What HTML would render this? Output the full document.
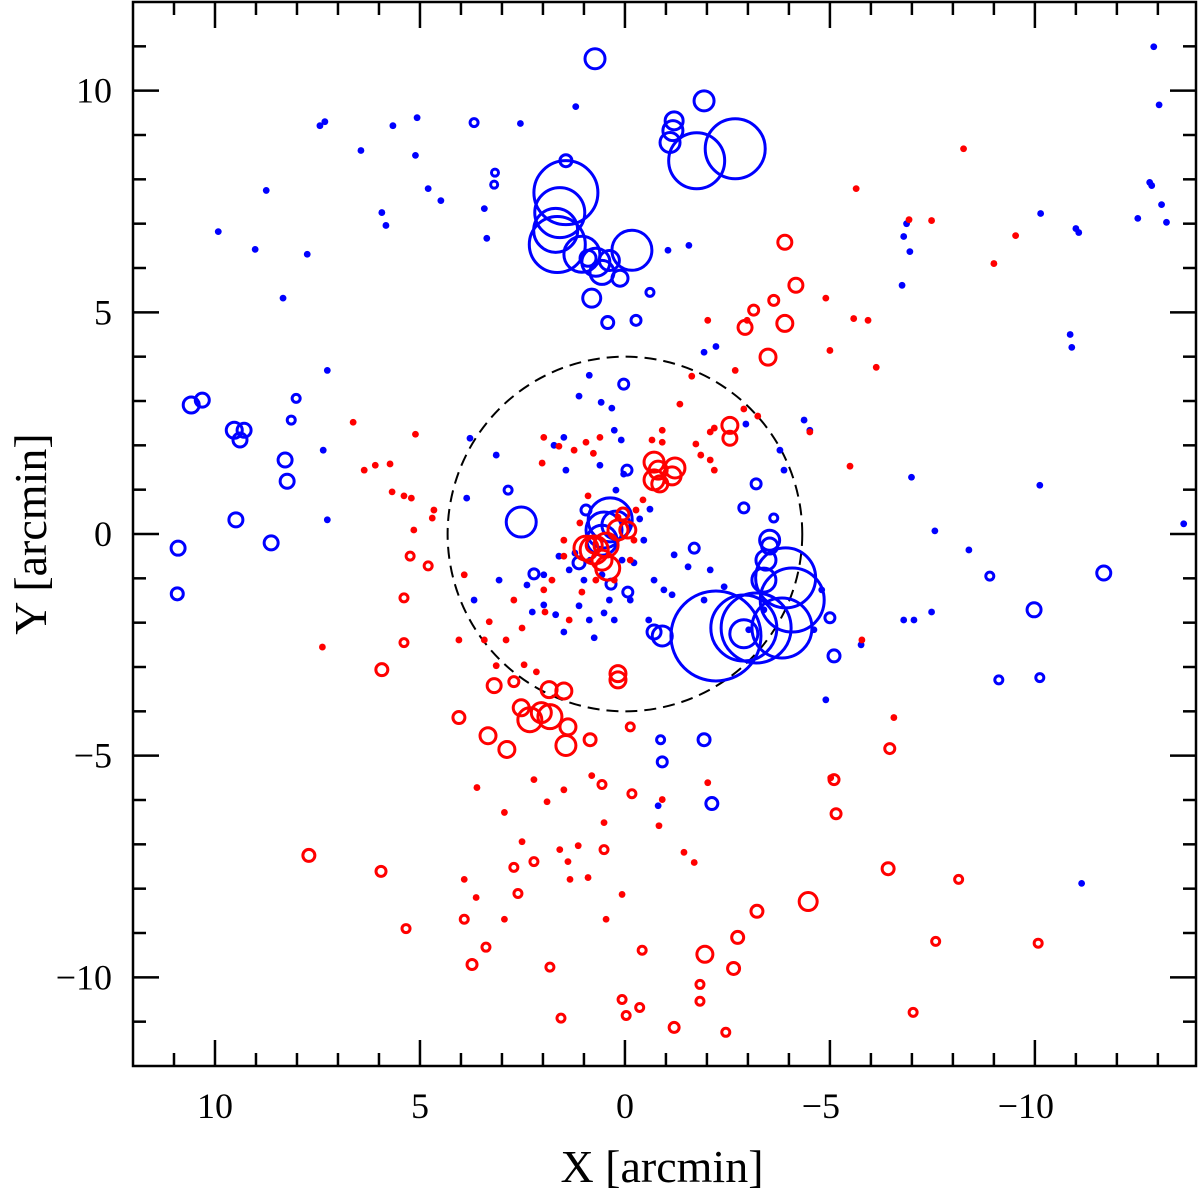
<!DOCTYPE html>
<html><head><meta charset="utf-8"><style>
html,body{margin:0;padding:0;background:#fff;width:1200px;height:1199px;overflow:hidden}
svg text{font-family:"Liberation Serif",serif;fill:#000}
</style></head><body>
<svg id="chart" width="1200" height="1199" viewBox="0 0 1200 1199" xmlns="http://www.w3.org/2000/svg"></svg>
<script>
const xTicks=[10,5,0,-5,-10];
const yTicks=[10,5,0,-5,-10];
const xTickLabels=["10","5","0","\u22125","\u221210"];
const yTickLabels=["10","5","0","\u22125","\u221210"];
const circleRadius=4;
const blueRings=[[1.44,7.70,32],[1.59,7.25,25],[1.69,6.85,22],[1.65,6.53,28],[1.05,6.31,18],[0.71,6.13,14],[0.56,5.90,12],[0.81,5.32,9],[0.38,6.17,10],[0.12,5.77,8],[-0.17,6.40,20],[0.90,6.22,8],[-1.93,9.77,10],[-1.20,9.32,9],[-1.17,9.10,10],[-1.10,8.83,10],[-1.75,8.42,28],[-2.69,8.69,30],[0.73,10.72,10],[1.44,8.42,6],[-2.22,-2.30,45],[-2.90,-2.12,33],[-3.20,-2.12,35],[-3.83,-2.12,30],[-4.08,-1.49,32],[-3.92,-0.99,30],[-3.39,-1.04,12],[-3.44,-0.59,10],[-3.53,-0.14,10],[-3.53,-0.27,8],[-2.90,-2.25,14],[-0.91,-2.30,10],[-0.71,-2.21,7],[-1.93,-4.64,6],[-2.12,-6.08,6],[-0.91,-5.14,5],[-0.87,-4.64,4],[-1.69,-0.32,5],[-3.20,1.13,5],[-2.90,0.59,5],[-3.63,0.36,4],[-5.10,-2.75,6],[-5.00,-1.89,5],[-9.98,-1.71,7],[-11.68,-0.88,7],[-8.90,-0.95,4],[-10.12,-3.24,4],[-9.12,-3.29,4],[0.36,0.32,22],[0.51,0.09,18],[0.56,-0.14,15],[0.22,0.20,14],[2.53,0.27,15],[2.22,-0.90,5],[1.12,-0.65,6],[-0.07,-1.31,5],[0.34,-1.13,5],[0.95,0.54,5],[0.03,3.38,5],[-0.05,1.44,5],[2.85,0.99,4],[-0.27,4.82,5],[0.42,4.77,6],[-0.61,5.45,4],[10.58,2.91,8],[10.31,3.02,7],[9.53,2.34,8],[9.39,2.12,7],[9.29,2.34,7],[8.29,1.67,7],[8.24,1.19,7],[10.90,-0.32,7],[10.92,-1.35,6],[9.49,0.32,7],[8.63,-0.20,7],[8.02,3.06,4],[8.14,2.57,4],[3.68,9.28,4],[3.19,7.88,3.5],[3.17,8.15,3.5]];
const blueDots=[[9.92,6.82],[9.02,6.42],[8.75,7.75],[7.75,6.31],[8.34,5.32],[7.44,9.21],[7.32,9.30],[6.44,8.65],[5.93,7.25],[5.83,6.96],[5.66,9.21],[5.07,9.39],[5.11,8.54],[4.80,7.79],[4.49,7.52],[3.43,7.34],[3.37,6.67],[2.55,9.26],[1.20,9.64],[7.26,3.69],[3.78,2.16],[7.36,1.89],[7.26,0.32],[3.86,0.81],[3.07,-1.04],[2.39,-1.15],[2.26,-1.76],[1.98,-1.60],[1.69,-1.82],[1.49,-2.21],[1.12,-1.62],[0.87,-1.94],[0.75,-2.34],[1.00,-1.04],[0.56,-0.92],[0.38,-1.49],[0.26,-1.94],[0.07,-0.59],[-0.22,-0.65],[-0.71,-1.04],[-0.95,-1.26],[-1.15,-1.37],[-1.20,-0.47],[-0.58,-1.94],[-1.54,-0.74],[-1.93,-1.49],[-2.42,-1.19],[-3.02,-2.16],[-3.39,-1.71],[-4.80,-1.26],[-5.76,-2.50],[-6.80,-1.94],[-7.05,-1.94],[-7.48,-1.76],[-8.39,-0.36],[-7.56,0.07],[-6.99,1.28],[-10.12,1.10],[-10.86,4.50],[-10.90,4.21],[-11.00,6.89],[-11.07,6.80],[-10.14,7.23],[-12.51,7.12],[-12.80,7.93],[-12.85,7.86],[-13.09,7.43],[-13.21,7.03],[-12.90,10.99],[-13.03,9.68],[-13.63,0.23],[-6.87,7.00],[-6.80,6.71],[-6.76,5.61],[-6.95,6.37],[-4.61,-2.16],[-4.90,-3.74],[-11.14,-7.88],[-1.05,6.40],[-1.56,6.51],[-2.22,4.23],[-1.93,4.10],[-2.95,2.48],[-3.78,1.89],[-4.37,2.57],[-4.51,2.34],[-3.88,1.44],[-0.81,-6.13],[0.03,1.35],[-0.61,0.56],[1.12,3.11],[0.87,3.58],[0.58,2.97],[0.32,2.84],[0.26,2.34],[0.09,2.12],[1.49,2.18],[1.73,2.00],[3.68,-1.49],[3.14,1.78],[0.61,1.55],[1.22,-0.43],[-0.36,0.34],[-0.46,-0.14],[0.85,-0.59],[1.36,-0.81],[1.61,-0.50],[1.98,-0.92],[0.51,-1.78],[-0.13,-1.49],[-2.08,-0.81],[0.22,0.99],[1.44,1.44]];
const redRings=[[0.95,-0.32,12],[0.75,-0.36,14],[0.56,-0.59,10],[0.42,-0.77,12],[0.75,-0.25,8],[0.46,-0.25,12],[0.17,0.09,10],[0.05,0.45,6],[-0.07,0.09,8],[-0.71,1.62,10],[-0.81,1.44,9],[-0.71,1.22,10],[-0.85,1.13,8],[-1.22,1.49,10],[-1.15,1.31,9],[-2.56,2.45,8],[-2.56,2.16,7],[-2.93,4.66,7],[-3.90,4.75,8],[-3.49,3.99,8],[-4.17,5.61,7],[-3.90,6.58,7],[0.17,-3.15,8],[0.17,-3.29,8],[1.49,-3.54,8],[1.85,-3.51,8],[2.04,-4.03,10],[2.53,-3.92,8],[3.19,-3.42,7],[2.88,-4.86,8],[3.34,-4.55,8],[1.83,-4.12,12],[1.39,-4.35,8],[1.44,-4.77,10],[0.85,-4.64,6],[2.32,-4.19,12],[4.05,-4.14,6],[5.93,-3.06,6],[7.71,-7.25,6],[5.95,-7.61,5],[5.34,-8.90,4],[3.92,-8.69,4],[3.73,-9.71,5],[3.39,-9.32,4],[2.61,-8.11,4],[2.22,-7.39,4],[-1.95,-9.48,8],[-2.65,-9.80,6],[-2.75,-9.10,6],[-3.22,-8.51,6],[-4.47,-8.29,9],[-6.42,-7.55,6],[-7.03,-10.79,4],[-7.58,-9.19,4],[-8.14,-7.79,4],[-10.08,-9.23,4],[-5.15,-6.31,5],[-5.10,-5.54,5],[-6.46,-4.84,5],[-2.46,-11.24,4],[-1.20,-11.13,5],[-0.03,-10.86,4],[-0.36,-10.68,4],[-1.83,-10.54,4],[-1.83,-10.16,4],[0.07,-10.50,4],[-0.42,-9.39,4],[1.56,-10.92,4],[1.83,-9.77,4],[0.51,-7.12,4],[0.56,-5.65,4],[-0.17,-5.86,4],[-0.13,-4.35,4],[2.71,-7.52,4],[5.24,-0.50,4],[5.39,-2.45,4],[5.39,-1.44,4],[4.80,-0.72,4],[2.71,-3.33,5],[-3.14,5.05,5],[-3.63,5.27,5]];
const redDots=[[0.77,1.82],[0.61,2.18],[1.24,1.89],[0.95,2.07],[1.61,1.98],[2.02,1.60],[1.98,2.18],[0.90,0.86],[1.10,0.25],[1.49,-0.14],[1.49,-0.50],[1.78,-1.04],[1.98,-1.26],[1.95,-1.76],[2.51,-2.12],[2.71,-1.49],[3.31,-1.98],[2.90,-2.39],[3.43,-2.39],[3.14,-2.97],[2.46,-2.95],[2.16,-3.11],[1.36,-1.94],[1.05,-1.31],[0.71,-1.04],[0.26,-1.04],[-0.13,-0.59],[-0.27,0.54],[-0.44,0.77],[0.17,0.38],[-0.22,-0.14],[-0.66,2.12],[-0.91,2.34],[-1.34,2.93],[-1.73,2.03],[-2.08,1.67],[-2.18,1.44],[-1.85,1.78],[-2.18,2.39],[-2.69,3.69],[-2.98,4.82],[-2.02,4.82],[-1.63,3.56],[-0.91,2.07],[-2.08,2.30],[-2.90,2.82],[-3.24,2.66],[-4.51,2.30],[-5.49,1.53],[-4.90,5.32],[-5.58,4.86],[-5.93,4.82],[-6.13,3.76],[-5.00,4.14],[-5.64,7.79],[-6.93,7.09],[-7.48,7.07],[-8.26,8.69],[-9.00,6.10],[-9.53,6.73],[-5.78,-2.39],[-6.56,-4.14],[-5.02,-5.50],[-2.02,-5.61],[-1.69,-7.41],[-1.44,-7.18],[-0.91,-5.99],[-0.83,-6.58],[0.51,-6.51],[1.59,-7.12],[1.39,-7.39],[1.14,-7.03],[1.34,-7.79],[0.90,-7.75],[0.81,-5.45],[1.49,-5.77],[1.90,-6.04],[2.22,-5.54],[2.94,-6.28],[3.63,-8.20],[3.61,-5.72],[4.05,-2.39],[3.92,-0.92],[4.66,0.54],[4.70,0.36],[5.15,0.09],[5.21,0.81],[5.39,0.86],[5.68,0.95],[5.73,1.58],[6.09,1.55],[6.36,1.44],[6.63,2.52],[5.11,2.25],[7.38,-2.55],[3.92,-7.79],[2.94,-8.69],[2.51,-6.94],[0.46,-8.69],[0.07,-8.13]];

const NS="http://www.w3.org/2000/svg";
const svg=document.getElementById('chart');
const L=133,R=1196,T=2,B=1066;
const xMin=12.0,xMax=-13.93,yMin=-12.0,yMax=12.0;
function sx(v){return L+(xMin-v)/(xMin-xMax)*(R-L);}
function sy(v){return B-(v-yMin)/(yMax-yMin)*(B-T);}
function el(tag,attrs,parent){const e=document.createElementNS(NS,tag);for(const k in attrs)e.setAttribute(k,attrs[k]);(parent||svg).appendChild(e);return e;}

const plot=el('g',{});


const clip=el('clipPath',{id:'pc'});el('rect',{x:L,y:T,width:R-L,height:B-T},clip);
plot.setAttribute('clip-path','url(#pc)');

const rpx=Math.abs(sy(circleRadius)-sy(0));
const dc=el('circle',{cx:sx(0),cy:sy(0),r:rpx,fill:'none',stroke:'#000','stroke-width':2,'stroke-dasharray':'12,7'},plot);



function drawRings(arr,color,name){
  const g=el('g',{},plot);
  
  
  arr.forEach(p=>{
    const c=el('circle',{cx:sx(p[0]),cy:sy(p[1]),r:p[2],fill:'none',stroke:color,'stroke-width':3},g);
    
    
  });
}
function drawDots(arr,color,name){
  const g=el('g',{},plot);
  
  
  arr.forEach(p=>{
    const c=el('circle',{cx:sx(p[0]),cy:sy(p[1]),r:3.4,fill:color},g);
    
    
  });
}
drawDots(blueDots,'#0000ff','blue-dots');
drawRings(blueRings,'#0000ff','blue-rings');
drawDots(redDots,'#ff0000','red-dots');
drawRings(redRings,'#ff0000','red-rings');

const fr=el('rect',{x:L,y:T,width:R-L,height:B-T,fill:'none',stroke:'#000','stroke-width':2.5});



const tg=el('g',{stroke:'#000','stroke-width':2.5});


for(let v=-13;v<=11;v++){
  const X=sx(v),len=(v%5===0)?26:13;
  el('line',{x1:X,y1:B,x2:X,y2:B-len},tg);
  el('line',{x1:X,y1:T,x2:X,y2:T+len},tg);
}
for(let v=-11;v<=11;v++){
  const Y=sy(v),len=(v%5===0)?26:13;
  el('line',{x1:L,y1:Y,x2:L+len,y2:Y},tg);
  el('line',{x1:R,y1:Y,x2:R-len,y2:Y},tg);
}
xTicks.forEach((v,i)=>{
  const t=el('text',{x:sx(v)-(v<0?9:0),y:1118,'font-size':36,'text-anchor':'middle'});
  t.textContent=xTickLabels[i];
  
  
});
yTicks.forEach((v,i)=>{
  const t=el('text',{x:112,y:sy(v)+12,'font-size':36,'text-anchor':'end'});
  t.textContent=yTickLabels[i];
  
  
});
const xt=el('text',{x:662,y:1182,'font-size':46,'text-anchor':'middle'});
xt.textContent='X [arcmin]';


const yt=el('text',{x:0,y:0,'font-size':46,'text-anchor':'middle',transform:'translate(46,534) rotate(-90)'});
yt.textContent='Y [arcmin]';


</script>
</body></html>
